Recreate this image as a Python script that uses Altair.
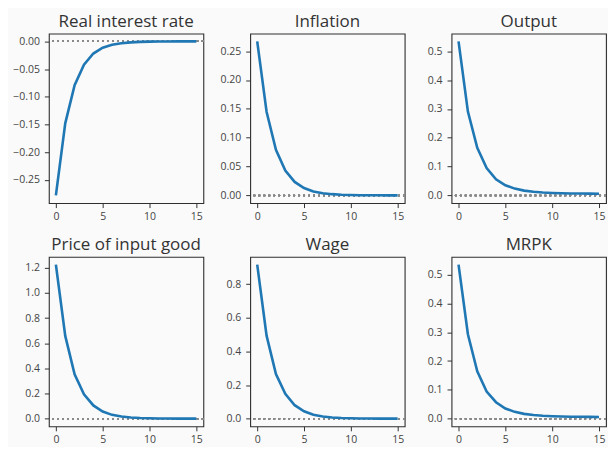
import altair as alt
import pandas as pd

horizon = list(range(16))

real_rate = [-0.278, -0.148, -0.079, -0.042, -0.022, -0.0115, -0.0062, -0.0033,
             -0.0018, -0.0010, -0.0005, -0.0003, -0.00015, -0.0001, -0.00005, -0.00003]
inflation = [0.267, 0.145, 0.079, 0.043, 0.0233, 0.0127, 0.0069, 0.0038,
             0.0021, 0.0011, 0.0006, 0.0003, 0.0002, 0.0001, 0.00005, 0.00003]
output = [0.535, 0.291, 0.165, 0.095, 0.056, 0.035, 0.0235, 0.0165,
          0.0125, 0.0100, 0.0085, 0.0075, 0.0068, 0.0063, 0.0060, 0.0057]
price_input = [1.225, 0.658, 0.353, 0.194, 0.105, 0.057, 0.030, 0.0165,
               0.0090, 0.0048, 0.0026, 0.0014, 0.0008, 0.0004, 0.0002, 0.0001]
wage = [0.917, 0.494, 0.266, 0.148, 0.080, 0.044, 0.0235, 0.0127,
        0.0069, 0.0037, 0.0020, 0.0011, 0.0006, 0.0003, 0.0002, 0.0001]
mrpk = [0.535, 0.293, 0.164, 0.094, 0.057, 0.035, 0.0235, 0.0165,
        0.0125, 0.0100, 0.0085, 0.0075, 0.0068, 0.0063, 0.0060, 0.0057]

titles = ["Real interest rate", "Inflation", "Output",
          "Price of input good", "Wage", "MRPK"]
series = [real_rate, inflation, output, price_input, wage, mrpk]
tick_sets = [
    [0.0, -0.05, -0.10, -0.15, -0.20, -0.25],
    [0.0, 0.05, 0.10, 0.15, 0.20, 0.25],
    [0.0, 0.1, 0.2, 0.3, 0.4, 0.5],
    [0.0, 0.2, 0.4, 0.6, 0.8, 1.0, 1.2],
    [0.0, 0.2, 0.4, 0.6, 0.8],
    [0.0, 0.1, 0.2, 0.3, 0.4, 0.5],
]
formats = [".2f", ".2f", ".1f", ".1f", ".1f", ".1f"]
x_ticks = [0, 5, 10, 15]


def panel(title, values, ticks, fmt):
    df = pd.DataFrame({"h": horizon, "v": values})
    lo = min(0.0, min(values))
    hi = max(0.0, max(values))
    pad = 0.05 * (hi - lo)
    yscale = alt.Scale(domain=[lo - pad, hi + pad], nice=False, zero=False)
    xscale = alt.Scale(domain=[-0.75, 15.75], nice=False, zero=False)
    yaxis = alt.Axis(values=ticks, format=fmt, title=None, minExtent=40, maxExtent=40)
    base = alt.Chart(df)
    rule = base.mark_rule(color="#8a8a8a", strokeDash=[1.6, 3.4], strokeWidth=1.5).encode(
        y=alt.Y(datum=0, scale=yscale, axis=yaxis)
    )
    line = base.mark_line(color="#1f77b4", strokeWidth=2.6).encode(
        x=alt.X("h:Q", scale=xscale, axis=alt.Axis(values=x_ticks, title=None)),
        y=alt.Y("v:Q", scale=yscale, axis=yaxis),
    )
    return alt.layer(rule, line).properties(width=155, height=170, title=title)


panels = [panel(t, s, k, f) for t, s, k, f in zip(titles, series, tick_sets, formats)]

chart = (
    alt.concat(*panels, columns=3, spacing={"row": 54, "column": 47}, bounds="flush")
    .configure(background="#fafafa", font="Open Sans",
               padding={"top": 3, "left": 0, "right": 0, "bottom": 0})
    .configure_view(stroke="#2e2e2e", strokeWidth=1.1, fill="#fafafa")
    .configure_axis(domain=False, grid=False, tickColor="#333333",
                    tickWidth=1, labelFontSize=10.5, labelColor="#444444",
                    labelFont="Open Sans")
    .configure_axisX(tickSize=4.5, labelPadding=3.5)
    .configure_axisY(tickSize=4.5, labelPadding=5)
    .configure_title(fontSize=17, font="Open Sans", fontWeight="normal",
                     color="#333333", offset=3, anchor="middle")
)

chart.save("out.html", embed_options={"renderer": "svg", "actions": False})
